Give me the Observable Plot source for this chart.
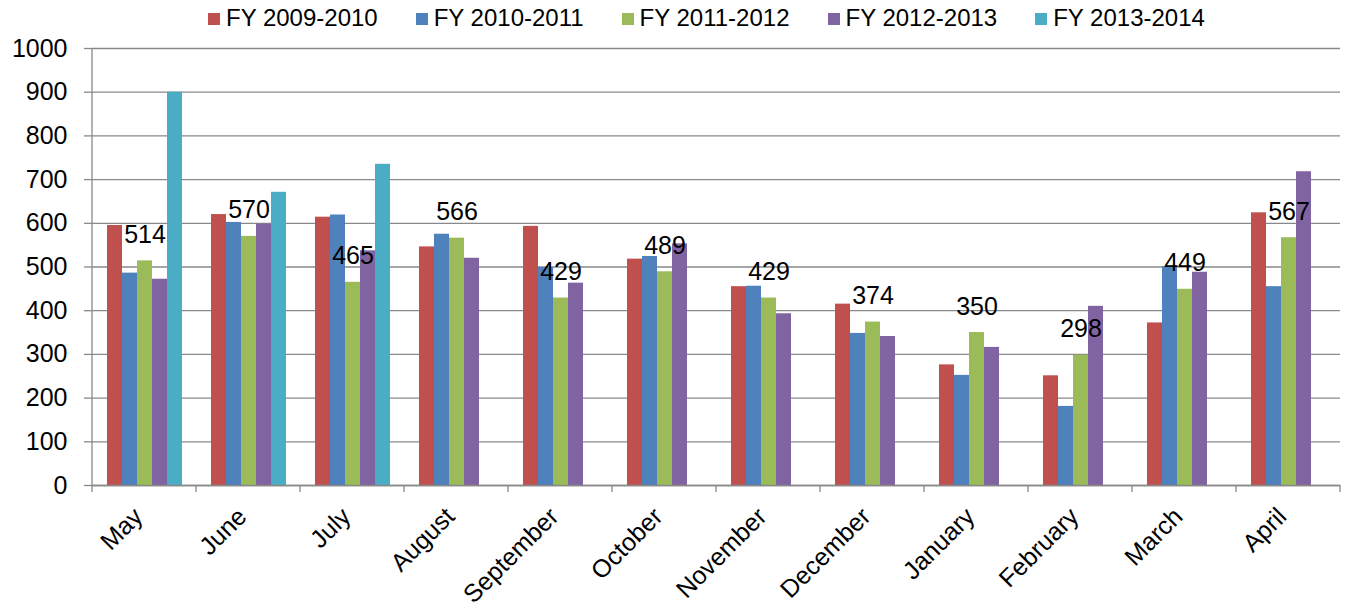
<!DOCTYPE html>
<html>
<head>
<meta charset="utf-8">
<script src="https://cdn.jsdelivr.net/npm/d3@7"></script>
<script src="https://cdn.jsdelivr.net/npm/@observablehq/plot@0.6"></script>
<style>
  html, body { margin: 0; padding: 0; background: #fff; }
  body { width: 1351px; height: 611px; overflow: hidden; font-family: "Liberation Sans", Arial, sans-serif; }
  #legend { height: 30px; padding-top: 6px; display: flex; align-items: center; padding-left: 208px; box-sizing: border-box; }
  .item { display: flex; align-items: center; margin-right: 38px; font-size: 24px; line-height: 24px; color: #000; }
  .sw { width: 12px; height: 12px; margin-right: 6px; margin-top: 2px; }
</style>
</head>
<body>
<div id="legend"></div>
<div id="chart"></div>
<script>
const months = ["May", "June", "July", "August", "September", "October", "November", "December", "January", "February", "March", "April"];
const series = ["FY 2009-2010", "FY 2010-2011", "FY 2011-2012", "FY 2012-2013", "FY 2013-2014"];
const colors = ["#C0504D", "#4F81BD", "#9BBB59", "#8064A2", "#4BACC6"];

const fy0910 = [595, 620, 614, 546, 593, 518, 455, 415, 276, 251, 372, 624];
const fy1011 = [486, 602, 619, 575, 499, 524, 456, 348, 252, 181, 501, 455];
const fy1112 = [514, 570, 465, 566, 429, 489, 429, 374, 350, 298, 449, 567];
const fy1213 = [472, 598, 537, 520, 463, 553, 393, 341, 316, 410, 488, 718];
const fy1314 = [900, 671, 735, null, null, null, null, null, null, null, null, null];

const yTicks = [0, 100, 200, 300, 400, 500, 600, 700, 800, 900, 1000];
const labelSeries = "FY 2011-2012";

const seriesValues = [fy0910, fy1011, fy1112, fy1213, fy1314];
const data = [];
months.forEach((m, i) => {
  series.forEach((s, j) => {
    const v = seriesValues[j][i];
    if (v != null) data.push({month: m, series: s, value: v});
  });
});

// legend
const legend = document.getElementById("legend");
series.forEach((s, j) => {
  const it = document.createElement("div");
  it.className = "item";
  const sw = document.createElement("div");
  sw.className = "sw";
  sw.style.background = colors[j];
  const tx = document.createElement("span");
  tx.textContent = s;
  it.appendChild(sw); it.appendChild(tx);
  legend.appendChild(it);
});

const gridColor = "#898989";

const plot = Plot.plot({
  width: 1351,
  height: 581,
  marginLeft: 90,
  marginRight: 10,
  marginTop: 18,
  marginBottom: 126,
  style: {fontFamily: "'Liberation Sans', Arial, sans-serif", fontSize: "25px", color: "#000", background: "#fff", overflow: "visible"},
  fx: {domain: months, padding: 0, label: null},
  x: {domain: series, axis: null, paddingInner: 0, paddingOuter: 0.78},
  y: {domain: [0, 1000], label: null},
  color: {domain: series, range: colors},
  marks: [
    Plot.gridY(yTicks, {stroke: gridColor, strokeOpacity: 1, strokeWidth: 1.3}),
    Plot.axisY(yTicks, {tickSize: 8, tickPadding: 17, fontSize: 25, stroke: gridColor, strokeWidth: 1.3, fill: "#000", label: null, tickFormat: d => String(d)}),
    Plot.axisFx({anchor: "bottom", tickSize: 0, tickPadding: 20, tickRotate: -45, textAnchor: "end", lineAnchor: "top", fontSize: 25, fill: "#000", label: null, dx: -13}),
    Plot.barY(data, {fx: "month", x: "series", y: "value", fill: "series"}),
    Plot.ruleY([0], {stroke: gridColor, strokeWidth: 1.3}),
    Plot.text(data.filter(d => d.series === labelSeries), {fx: "month", x: "series", y: "value", text: d => String(d.value), lineAnchor: "bottom", dy: -18, fontSize: 25, fill: "#000"})
  ]
});

document.getElementById("chart").appendChild(plot);

// category boundary ticks and left axis line from the plot's own scales
const fx = plot.scale("fx");
const y = plot.scale("y");
const svg = d3.select(plot);
const bounds = months.map(m => fx.apply(m)).concat([fx.apply(months[months.length - 1]) + fx.bandwidth]);
const y0 = y.apply(0);
const g = svg.append("g").attr("stroke", gridColor).attr("stroke-width", 1.3);
g.selectAll("line.b").data(bounds).join("line")
  .attr("x1", d => d).attr("x2", d => d)
  .attr("y1", y0).attr("y2", y0 + 7);
g.append("line")
  .attr("x1", bounds[0]).attr("x2", bounds[0])
  .attr("y1", y.apply(1000)).attr("y2", y0);
</script>
</body>
</html>
